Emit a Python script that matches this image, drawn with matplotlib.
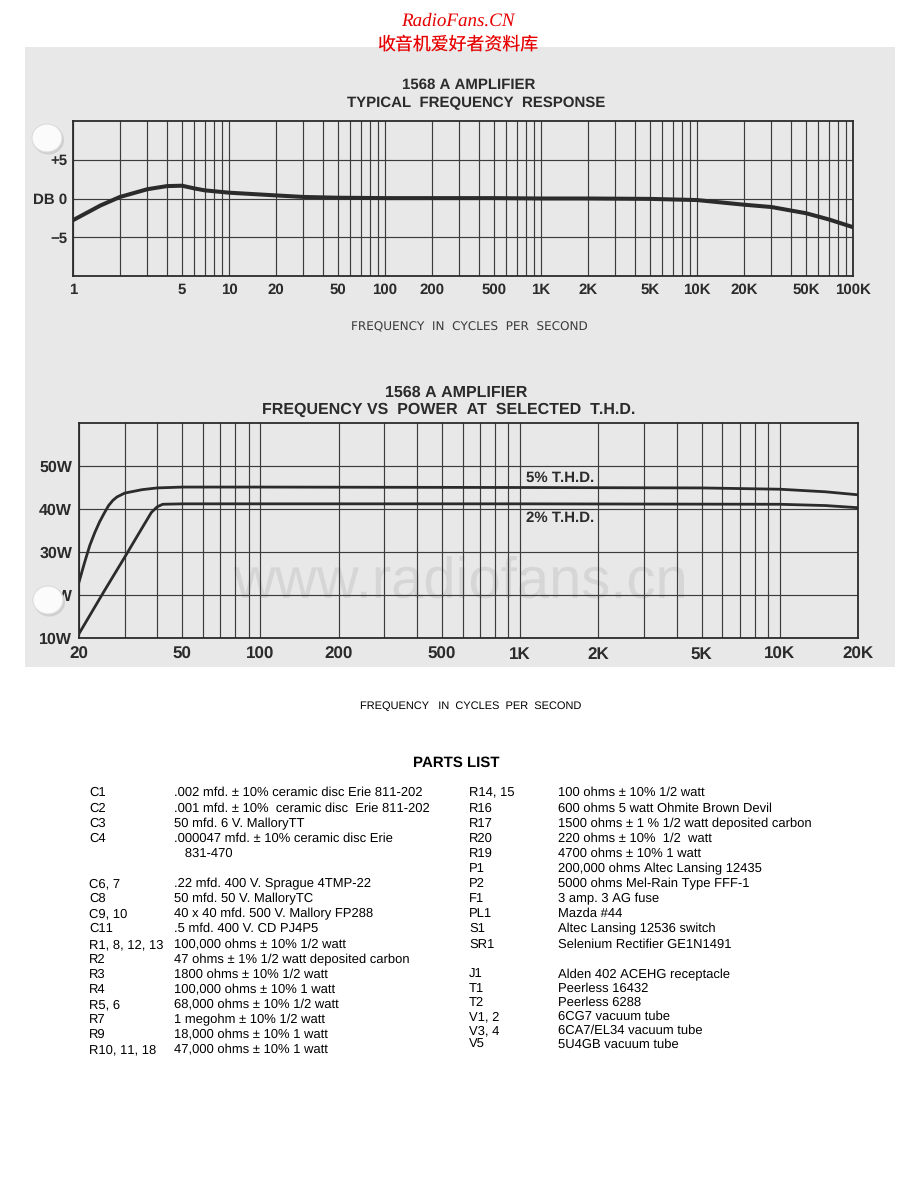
import matplotlib
matplotlib.use("Agg")
import matplotlib.pyplot as plt
from matplotlib.patches import Rectangle, Ellipse
from matplotlib.ticker import LogLocator, NullFormatter

plt.rcParams["text.hinting"] = "no_hinting"
plt.rcParams["text.hinting_factor"] = 1

# ---------------- data ----------------
fr_freq = [1, 1.5, 2, 3, 4, 5, 6, 7, 10, 20, 30, 50, 100, 200, 500, 1000,
           2000, 5000, 10000, 20000, 30000, 50000, 70000, 100000]
fr_db = [-2.8, -0.9, 0.2, 1.2, 1.6, 1.65, 1.3, 1.05, 0.75, 0.4, 0.2, 0.1, 0.05,
         0.05, 0.05, 0.0, 0.0, -0.05, -0.2, -0.8, -1.1, -1.9, -2.7, -3.7]

fr_xticks = [1, 5, 10, 20, 50, 100, 200, 500, 1000, 2000, 5000, 10000, 20000, 50000, 100000]
fr_xlabels = ["1", "5", "10", "20", "50", "100", "200", "500", "1K", "2K", "5K",
              "10K", "20K", "50K", "100K"]
fr_yticks = [-5, 0, 5]
fr_ylabels = ["\u22125", "DB 0", "+5"]

thd5_freq = [20, 21, 22, 23, 24, 25, 26, 27, 28, 30, 35, 40, 50, 100, 1000, 5000, 10000, 15000, 20000]
thd5_w = [23, 27.5, 31.5, 34.5, 37, 39, 40.8, 42, 42.8, 43.7, 44.5, 44.9, 45.1, 45.1, 45.0, 44.9,
          44.6, 44.0, 43.3]
thd2_freq = [20, 25, 30, 35, 38, 40, 42, 50, 100, 1000, 10000, 15000, 20000]
thd2_w = [11, 20.9, 28.8, 35.6, 39.2, 40.5, 41.1, 41.2, 41.2, 41.2, 41.1, 40.8, 40.3]

pw_xticks = [20, 50, 100, 200, 500, 1000, 2000, 5000, 10000, 20000]
pw_xlabels = ["20", "50", "100", "200", "500", "1K", "2K", "5K", "10K", "20K"]
pw_yticks = [10, 20, 30, 40, 50]
pw_ylabels = ["10W", "20W", "30W", "40W", "50W"]

left_labels = ["C1", "C2", "C3", "C4", "", "", "C6, 7", "C8", "C9, 10", "C11",
               "R1, 8, 12, 13", "R2", "R3", "R4", "R5, 6", "R7", "R9", "R10, 11, 18"]
left_desc = [".002 mfd. \u00b1 10% ceramic disc Erie 811-202",
             ".001 mfd. \u00b1 10%  ceramic disc  Erie 811-202",
             "50 mfd. 6 V. MalloryTT",
             ".000047 mfd. \u00b1 10% ceramic disc Erie",
             "   831-470",
             "",
             ".22 mfd. 400 V. Sprague 4TMP-22",
             "50 mfd. 50 V. MalloryTC",
             "40 x 40 mfd. 500 V. Mallory FP288",
             ".5 mfd. 400 V. CD PJ4P5",
             "100,000 ohms \u00b1 10% 1/2 watt",
             "47 ohms \u00b1 1% 1/2 watt deposited carbon",
             "1800 ohms \u00b1 10% 1/2 watt",
             "100,000 ohms \u00b1 10% 1 watt",
             "68,000 ohms \u00b1 10% 1/2 watt",
             "1 megohm \u00b1 10% 1/2 watt",
             "18,000 ohms \u00b1 10% 1 watt",
             "47,000 ohms \u00b1 10% 1 watt"]
right_labels = ["R14, 15", "R16", "R17", "R20", "R19", "P1", "P2", "F1", "PL1", "S1", "SR1",
                "", "J1", "T1", "T2", "V1, 2", "V3, 4", "V5"]
right_desc = ["100 ohms \u00b1 10% 1/2 watt",
              "600 ohms 5 watt Ohmite Brown Devil",
              "1500 ohms \u00b1 1 % 1/2 watt deposited carbon",
              "220 ohms \u00b1 10%  1/2  watt",
              "4700 ohms \u00b1 10% 1 watt",
              "200,000 ohms Altec Lansing 12435",
              "5000 ohms Mel-Rain Type FFF-1",
              "3 amp. 3 AG fuse",
              "Mazda #44",
              "Altec Lansing 12536 switch",
              "Selenium Rectifier GE1N1491",
              "",
              "Alden 402 ACEHG receptacle",
              "Peerless 16432",
              "Peerless 6288",
              "6CG7 vacuum tube",
              "6CA7/EL34 vacuum tube",
              "5U4GB vacuum tube"]

# ---------------- figure ----------------
W, H = 920, 1191
fig = plt.figure(figsize=(W / 100, H / 100), dpi=100)
fig.patch.set_facecolor("white")


def fx(x):
    return x / W


def fy(y):
    return 1 - y / H


def axes_px(x0, y0, x1, y1):
    return fig.add_axes([fx(x0), fy(y1), (x1 - x0) / W, (y1 - y0) / H])


PAPER = "#e8e8e8"
INK = "#2b2b2b"
GRID = "#3c3c3c"
LET = ["Liberation Sans", "DejaVu Sans"]

# scanned area background
fig.patches.append(Rectangle((fx(25), fy(667)), 870 / W, 620 / H, transform=fig.transFigure,
                             facecolor=PAPER, edgecolor="none", zorder=-2))

# header
fig.text(fx(458), fy(21), "RadioFans.CN", color="#e60000", fontsize=14, style="italic",
         family=["Liberation Serif", "DejaVu Serif"], ha="center", va="center")
fig.text(fx(458), fy(44), "收音机爱好者资料库", color="#e60000", fontsize=12.9,
         family=["Noto Sans CJK SC", "DejaVu Sans"], ha="center", va="center")

# watermark
fig.text(fx(460), fy(597), "www.radiofans.cn", color="#d6d6d6", fontsize=41.5,
         family=LET, ha="center", va="baseline", zorder=-1)


def style_axes(ax):
    ax.set_facecolor("none")
    for s in ax.spines.values():
        s.set_color(INK)
        s.set_linewidth(1.3)
    ax.tick_params(which="both", length=0)
    ax.grid(True, which="both", axis="x", color=GRID, linewidth=0.85)
    ax.grid(True, which="major", axis="y", color=GRID, linewidth=0.85)
    ax.set_axisbelow(True)


# ---------------- top chart ----------------
ax1 = axes_px(73, 121, 853, 276)
ax1.set_xscale("log")
ax1.set_xlim(1, 100000)
ax1.set_ylim(-10, 10)
ax1.xaxis.set_minor_locator(LogLocator(base=10, subs=range(2, 10), numticks=20))
ax1.xaxis.set_minor_formatter(NullFormatter())
ax1.set_xticks(fr_xticks)
ax1.set_xticklabels(fr_xlabels)
ax1.set_yticks(fr_yticks)
ax1.set_yticklabels(fr_ylabels)
style_axes(ax1)
ax1.tick_params(axis="x", pad=5, labelsize=10.5, labelcolor=INK)
ax1.tick_params(axis="y", pad=4, labelsize=10.5, labelcolor=INK)
for t in ax1.get_xticklabels() + ax1.get_yticklabels():
    t.set_fontweight("bold")
    t.set_family(LET)
ax1.plot(fr_freq, fr_db, color=INK, linewidth=2.9, solid_capstyle="round", zorder=3)

fig.text(fx(469), fy(85), "1568 A AMPLIFIER", fontsize=11, fontweight="bold", color=INK,
         family=LET, ha="center", va="center")
fig.text(fx(476), fy(103), "TYPICAL  FREQUENCY  RESPONSE", fontsize=11, fontweight="bold",
         color=INK, family=LET, ha="center", va="center")
fig.text(fx(469), fy(327), "FREQUENCY  IN  CYCLES  PER  SECOND", fontsize=8.4, color="#3a3a3a",
         family=["DejaVu Sans"], ha="center", va="center")

# ---------------- bottom chart ----------------
ax2 = axes_px(79, 423, 858, 638)
ax2.set_xscale("log")
ax2.set_xlim(20, 20000)
ax2.set_ylim(10, 60)
ax2.xaxis.set_minor_locator(LogLocator(base=10, subs=range(2, 10), numticks=20))
ax2.xaxis.set_minor_formatter(NullFormatter())
ax2.set_xticks(pw_xticks)
ax2.set_xticklabels(pw_xlabels)
ax2.set_yticks(pw_yticks)
ax2.set_yticklabels(pw_ylabels)
style_axes(ax2)
ax2.tick_params(axis="x", pad=6, labelsize=12, labelcolor=INK)
ax2.tick_params(axis="y", pad=5, labelsize=11.5, labelcolor=INK)
for t in ax2.get_xticklabels() + ax2.get_yticklabels():
    t.set_fontweight("bold")
    t.set_family(LET)
ax2.plot(thd5_freq, thd5_w, color=INK, linewidth=2.0, zorder=3)
ax2.plot(thd2_freq, thd2_w, color=INK, linewidth=2.0, zorder=3)
ax2.text(1057, 47.3, "5% T.H.D.", fontsize=10.5, fontweight="bold", color=INK, family=LET,
         ha="left", va="center")
ax2.text(1057, 37.9, "2% T.H.D.", fontsize=10.5, fontweight="bold", color=INK, family=LET,
         ha="left", va="center")

fig.text(fx(456), fy(393), "1568 A AMPLIFIER", fontsize=11.5, fontweight="bold", color=INK,
         family=LET, ha="center", va="center")
fig.text(fx(449), fy(410), "FREQUENCY VS  POWER  AT  SELECTED  T.H.D.", fontsize=11.5,
         fontweight="bold", color=INK, family=LET, ha="center", va="center")

# hole punches
for cx, cy in [(47, 138), (48, 600)]:
    fig.patches.append(Ellipse((fx(cx + 1.5), fy(cy + 2)), 31 / W, 29 / H, transform=fig.transFigure,
                               facecolor="#cfcfcf", edgecolor="none", zorder=5))
    fig.patches.append(Ellipse((fx(cx), fy(cy)), 30 / W, 28 / H, transform=fig.transFigure,
                               facecolor="#fbfbfb", edgecolor="#dcdcdc", linewidth=0.8, zorder=6))

# ---------------- text below ----------------
ARIAL = ["Liberation Sans", "DejaVu Sans"]
fig.text(fx(471), fy(706), "FREQUENCY   IN  CYCLES  PER  SECOND", fontsize=8.2, color="black",
         family=ARIAL, ha="center", va="center")
fig.text(fx(456), fy(763), "PARTS LIST", fontsize=10.5, fontweight="bold", color="black",
         family=ARIAL, ha="center", va="center")

PFS = 9.2
for i, (lab, desc) in enumerate(zip(left_labels, left_desc)):
    y = round(792 + 15.1 * i + 4.5)
    fig.text(fx(89), fy(y), lab, fontsize=PFS, family=ARIAL, color="black", va="baseline")
    fig.text(fx(174), fy(y), desc, fontsize=PFS, family=ARIAL, color="black", va="baseline")

for i, (lab, desc) in enumerate(zip(right_labels, right_desc)):
    y = round((792 + 15.1 * i if i <= 12 else 973.5 + 14.0 * (i - 12)) + 4.5)
    fig.text(fx(469), fy(y), lab, fontsize=PFS, family=ARIAL, color="black", va="baseline")
    fig.text(fx(558), fy(y), desc, fontsize=PFS, family=ARIAL, color="black", va="baseline")

fig.savefig("out.png", dpi=100, facecolor="white")
